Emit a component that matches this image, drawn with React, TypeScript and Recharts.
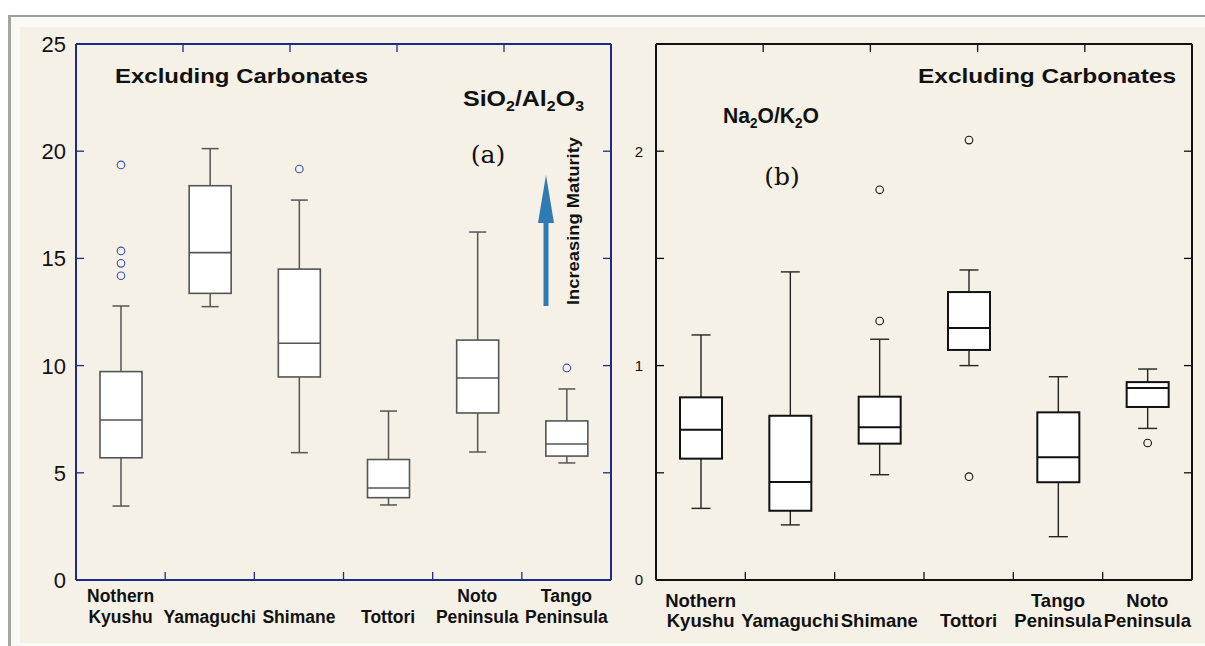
import React from 'react';
import { ComposedChart, Bar, XAxis, YAxis } from 'recharts';

// ---------- Panel (a): SiO2/Al2O3 ----------
const siCategories = ['Nothern\nKyushu', 'Yamaguchi', 'Shimane', 'Tottori', 'Noto\nPeninsula', 'Tango\nPeninsula'];
const siLow = [3.45, 12.75, 5.94, 3.5, 5.97, 5.46];
const siQ1 = [5.7, 13.37, 9.47, 3.84, 7.79, 5.78];
const siMedian = [7.46, 15.27, 11.04, 4.29, 9.42, 6.34];
const siQ3 = [9.72, 18.39, 14.5, 5.62, 11.19, 7.42];
const siHigh = [12.78, 20.12, 17.72, 7.88, 16.23, 8.91];
const siOutliers = [[19.36, 15.35, 14.77, 14.19], [], [19.17], [], [], [9.89]];
const siTicks = [0, 5, 10, 15, 20, 25];
const siTickLabels = ['0', '5', '10', '15', '20', '25'];

// ---------- Panel (b): Na2O/K2O ----------
const naCategories = ['Nothern\nKyushu', 'Yamaguchi', 'Shimane', 'Tottori', 'Tango\nPeninsula', 'Noto\nPeninsula'];
const naLow = [0.334, 0.257, 0.491, 1.0, 0.202, 0.707];
const naQ1 = [0.566, 0.323, 0.636, 1.073, 0.456, 0.807];
const naMedian = [0.701, 0.457, 0.712, 1.175, 0.572, 0.896];
const naQ3 = [0.852, 0.766, 0.855, 1.343, 0.782, 0.923];
const naHigh = [1.143, 1.437, 1.123, 1.446, 0.948, 0.984];
const naOutliers = [[], [], [1.82, 1.208], [2.052, 0.482], [], [0.639]];
const naTicks = [0, 0.5, 1, 1.5, 2, 2.5];
const naTickLabels = ['0', '', '1', '', '2', ''];

const SANS = '"Liberation Sans", Arial, Helvetica, sans-serif';
const SERIF = '"DejaVu Serif", "Liberation Serif", serif';

type Row = {
  pos: number; name: string; range: [number, number];
  lo: number; q1: number; med: number; q3: number; hi: number; out: number[];
};

function buildRows(cats: string[], lo: number[], q1: number[], med: number[], q3: number[], hi: number[], out: number[][]): Row[] {
  return cats.map((name, i) => ({
    pos: i + 0.5, name, range: [lo[i], hi[i]] as [number, number],
    lo: lo[i], q1: q1[i], med: med[i], q3: q3[i], hi: hi[i], out: out[i],
  }));
}

type PanelStyle = {
  axisColor: string; axisWidth: number;
  boxStroke: string; boxWidth: number; whiskerStroke: string; whiskerWidth: number;
  outlierColor: string; outlierR: number; cap: number;
  tickFont: number; tickGap: number; catFont: number; catLine1: number; catLine2: number;
};

function makeBoxShape(st: PanelStyle) {
  return (props: any) => {
    const { x, y, width, height, payload } = props;
    if (x == null || y == null || !payload) return <g />;
    const top = Math.min(y, y + height);
    const bottom = Math.max(y, y + height);
    const span = payload.hi - payload.lo;
    const py = (v: number) => bottom - ((v - payload.lo) / span) * (bottom - top);
    const cx = x + width / 2;
    const h = st.cap / 2;
    return (
      <g>
        <line x1={cx} x2={cx} y1={py(payload.hi)} y2={py(payload.q3)} stroke={st.whiskerStroke} strokeWidth={st.whiskerWidth} />
        <line x1={cx} x2={cx} y1={py(payload.q1)} y2={py(payload.lo)} stroke={st.whiskerStroke} strokeWidth={st.whiskerWidth} />
        <line x1={cx - h} x2={cx + h} y1={py(payload.hi)} y2={py(payload.hi)} stroke={st.whiskerStroke} strokeWidth={st.whiskerWidth} />
        <line x1={cx - h} x2={cx + h} y1={py(payload.lo)} y2={py(payload.lo)} stroke={st.whiskerStroke} strokeWidth={st.whiskerWidth} />
        <rect x={x} y={py(payload.q3)} width={width} height={py(payload.q1) - py(payload.q3)} fill="#ffffff" stroke={st.boxStroke} strokeWidth={st.boxWidth} />
        <line x1={x} x2={x + width} y1={py(payload.med)} y2={py(payload.med)} stroke={st.boxStroke} strokeWidth={st.boxWidth} />
        {payload.out.map((v: number, k: number) => (
          <circle key={k} cx={cx} cy={py(v)} r={st.outlierR} fill="none" stroke={st.outlierColor} strokeWidth={1.1} />
        ))}
      </g>
    );
  };
}

function BoxPanel(p: {
  rows: Row[]; cats: string[]; yTicks: number[]; yLabels: string[]; yMax: number;
  st: PanelStyle; width: number; height: number;
  margin: { top: number; right: number; bottom: number; left: number };
}) {
  const { rows, cats, yTicks, yLabels, yMax, st } = p;
  const xTicksBottom: number[] = [];
  for (let i = 0; i < cats.length; i++) {
    xTicksBottom.push(i + 0.5);
    if (i < cats.length - 1) xTicksBottom.push(i + 1);
  }
  const xTicksTop = cats.slice(1).map((_, i) => i + 1);
  const axisLine = { stroke: st.axisColor, strokeWidth: st.axisWidth };

  const leftTick = (t: any) => {
    const v = t.payload.value;
    const idx = yTicks.indexOf(v);
    const edge = v === 0 || v === yMax;
    return (
      <g>
        {!edge && <line x1={t.x} x2={t.x + 8} y1={t.y} y2={t.y} stroke={st.axisColor} strokeWidth={1.3} />}
        <text x={t.x - st.tickGap} y={t.y} dy="0.36em" textAnchor="end" fontFamily={SANS} fontSize={st.tickFont} fill="#111">
          {idx >= 0 ? yLabels[idx] : ''}
        </text>
      </g>
    );
  };
  const rightTick = (t: any) => {
    const v = t.payload.value;
    const edge = v === 0 || v === yMax;
    return <g>{!edge && <line x1={t.x} x2={t.x - 8} y1={t.y} y2={t.y} stroke={st.axisColor} strokeWidth={1.3} />}</g>;
  };
  const topTick = (t: any) => (
    <g><line x1={t.x} x2={t.x} y1={t.y} y2={t.y + 8} stroke={st.axisColor} strokeWidth={1.3} /></g>
  );
  const bottomTick = (t: any) => {
    const v = t.payload.value;
    if (Number.isInteger(v)) {
      return <g><line x1={t.x} x2={t.x} y1={t.y} y2={t.y - 8} stroke={st.axisColor} strokeWidth={1.3} /></g>;
    }
    const lines = cats[Math.floor(v)].split('\n');
    const l1 = lines.length > 1 ? lines[0] : '';
    const l2 = lines.length > 1 ? lines[1] : lines[0];
    return (
      <g>
        <text x={t.x} y={t.y + st.catLine1} textAnchor="middle" fontFamily={SANS} fontWeight="bold" fontSize={st.catFont} fill="#111">{l1}</text>
        <text x={t.x} y={t.y + st.catLine2} textAnchor="middle" fontFamily={SANS} fontWeight="bold" fontSize={st.catFont} fill="#111">{l2}</text>
      </g>
    );
  };

  return (
    <ComposedChart width={p.width} height={p.height} data={rows} margin={p.margin}>
      <XAxis xAxisId="t" orientation="top" type="number" domain={[0, cats.length]} allowDataOverflow
        ticks={xTicksTop} interval={0} height={1} tickLine={false} tickSize={0} tickMargin={0}
        axisLine={axisLine} tick={topTick} />
      <XAxis xAxisId="b" orientation="bottom" type="number" dataKey="pos" domain={[0, cats.length]} allowDataOverflow
        ticks={xTicksBottom} interval={0} height={60} tickLine={false} tickSize={0} tickMargin={0}
        axisLine={axisLine} tick={bottomTick} />
      <YAxis yAxisId="l" orientation="left" type="number" domain={[0, yMax]} allowDataOverflow
        ticks={yTicks} interval={0} width={40} tickLine={false} tickSize={0} tickMargin={0}
        axisLine={axisLine} tick={leftTick} />
      <YAxis yAxisId="r" orientation="right" type="number" domain={[0, yMax]} allowDataOverflow
        ticks={yTicks} interval={0} width={1} tickLine={false} tickSize={0} tickMargin={0}
        axisLine={axisLine} tick={rightTick} />
      <Bar xAxisId="b" yAxisId="l" dataKey="range" barSize={42} isAnimationActive={false} shape={makeBoxShape(st)} />
    </ComposedChart>
  );
}

const leftStyle: PanelStyle = {
  axisColor: '#1d2c86', axisWidth: 2,
  boxStroke: '#555555', boxWidth: 1.6, whiskerStroke: '#555555', whiskerWidth: 1.5,
  outlierColor: '#3550b8', outlierR: 3.8, cap: 17,
  tickFont: 22, tickGap: 10, catFont: 17.5, catLine1: 22, catLine2: 43,
};
const rightStyle: PanelStyle = {
  axisColor: '#111111', axisWidth: 2,
  boxStroke: '#111111', boxWidth: 2, whiskerStroke: '#222222', whiskerWidth: 1.4,
  outlierColor: '#111111', outlierR: 3.8, cap: 19,
  tickFont: 15, tickGap: 13, catFont: 18.5, catLine1: 27, catLine2: 47,
};

export default function App() {
  const siRows = buildRows(siCategories, siLow, siQ1, siMedian, siQ3, siHigh, siOutliers);
  const naRows = buildRows(naCategories, naLow, naQ1, naMedian, naQ3, naHigh, naOutliers);
  return (
    <div style={{ position: 'absolute', left: 0, top: 0, width: 1205, height: 646, background: '#ffffff', overflow: 'hidden' }}>
      <div style={{ position: 'absolute', left: 8, top: 15, width: 1197, height: 631, borderTop: '2px solid #9c9c9c', borderLeft: '3px solid #a5a5a5', background: '#fbf9f5', boxSizing: 'border-box' }} />
      <div style={{ position: 'absolute', left: 20, top: 27, width: 1185, height: 616, background: '#f6f1e6' }} />
      <div style={{ position: 'absolute', left: 0, top: 0 }}>
        <BoxPanel rows={siRows} cats={siCategories} yTicks={siTicks} yLabels={siTickLabels} yMax={25}
          st={leftStyle} width={620} height={646} margin={{ top: 43, right: 8, bottom: 6, left: 36 }} />
      </div>
      <div style={{ position: 'absolute', left: 600, top: 0 }}>
        <BoxPanel rows={naRows} cats={naCategories} yTicks={naTicks} yLabels={naTickLabels} yMax={2.5}
          st={rightStyle} width={605} height={646} margin={{ top: 43, right: 12, bottom: 6, left: 16 }} />
      </div>
      <svg width={1205} height={646} style={{ position: 'absolute', left: 0, top: 0, pointerEvents: 'none' }}>
        <text x={115} y={83} fontFamily={SANS} fontWeight="bold" fontSize={21} fill="#111" textLength={253} lengthAdjust="spacingAndGlyphs">Excluding Carbonates</text>
        <text x={463} y={106} fontFamily={SANS} fontWeight="bold" fontSize={22} fill="#111" textLength={121} lengthAdjust="spacingAndGlyphs">
          SiO<tspan fontSize={14} dy={5}>2</tspan><tspan dy={-5}>/Al</tspan><tspan fontSize={14} dy={5}>2</tspan><tspan dy={-5}>O</tspan><tspan fontSize={14} dy={5}>3</tspan>
        </text>
        <text x={488} y={163} textAnchor="middle" fontFamily={SERIF} fontSize={25} fill="#111">(a)</text>
        <line x1={546} x2={546} y1={306} y2={220} stroke="#2f7bb3" strokeWidth={5} />
        <polygon points="546,175 538,223 554,223" fill="#2f7bb3" />
        <text x={0} y={0} transform="translate(579,221) rotate(-90)" textAnchor="middle" fontFamily={SANS} fontWeight="bold" fontSize={17} fill="#111" textLength={168} lengthAdjust="spacingAndGlyphs">Increasing Maturity</text>
        <text x={918} y={83} fontFamily={SANS} fontWeight="bold" fontSize={21} fill="#111" textLength={258} lengthAdjust="spacingAndGlyphs">Excluding Carbonates</text>
        <text x={723} y={123} fontFamily={SANS} fontWeight="bold" fontSize={22} fill="#111" textLength={96} lengthAdjust="spacingAndGlyphs">
          Na<tspan fontSize={14} dy={5}>2</tspan><tspan dy={-5}>O/K</tspan><tspan fontSize={14} dy={5}>2</tspan><tspan dy={-5}>O</tspan>
        </text>
        <text x={782} y={185} textAnchor="middle" fontFamily={SERIF} fontSize={25} fill="#111">(b)</text>
      </svg>
    </div>
  );
}
